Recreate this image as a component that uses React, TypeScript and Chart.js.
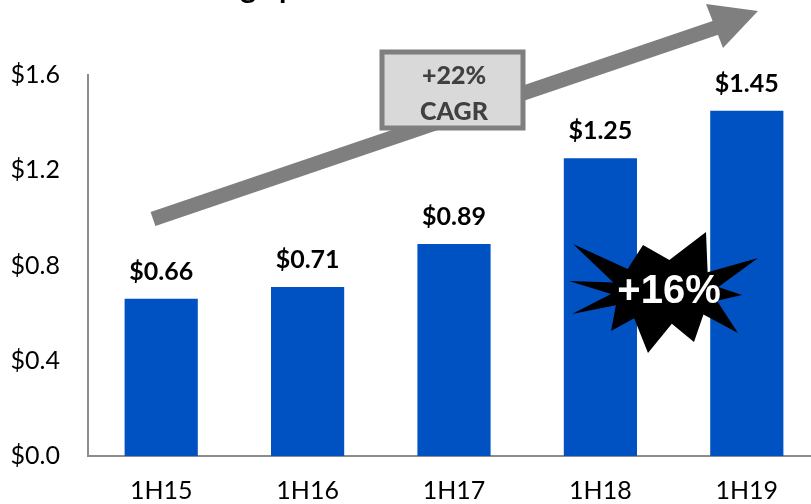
import React, { useEffect, useRef } from "react";
import { Chart, registerables } from "chart.js";

Chart.register(...registerables);

const categories = ["1H15", "1H16", "1H17", "1H18", "1H19"];
const values = [0.66, 0.71, 0.89, 1.25, 1.45];
const valueLabels = ["$0.66", "$0.71", "$0.89", "$1.25", "$1.45"];
const yTicks = [0, 0.4, 0.8, 1.2, 1.6];
const cagrLines = ["+22%", "CAGR"];
const growthLabel = "+16%";
const titleLeft = "Strong";
const titleRight = "performance";

const FONT = "Lato, 'Open Sans', sans-serif";

const decorPlugin = {
  id: "decor",
  afterDatasetsDraw(chart: any) {
    const ctx = chart.ctx as CanvasRenderingContext2D;
    const meta = chart.getDatasetMeta(0);
    ctx.save();
    // data labels
    ctx.fillStyle = "#000";
    ctx.font = `bold 25px ${FONT}`;
    ctx.textAlign = "center";
    ctx.textBaseline = "alphabetic";
    meta.data.forEach((bar: any, i: number) => {
      ctx.fillText(valueLabels[i], bar.x, bar.y - 19);
    });

    // title (cut off at top)
    ctx.font = `bold 30px ${FONT}`;
    ctx.textAlign = "right";
    ctx.fillText(titleLeft, 256, -2);
    ctx.textAlign = "left";
    ctx.fillText(titleRight, 279, -2);

    // arrow
    ctx.strokeStyle = "#7f7f7f";
    ctx.fillStyle = "#7f7f7f";
    ctx.lineWidth = 15;
    ctx.lineCap = "butt";
    ctx.beginPath();
    ctx.moveTo(153, 219);
    ctx.lineTo(718, 27);
    ctx.stroke();
    ctx.beginPath();
    ctx.moveTo(706, 4);
    ctx.lineTo(758, 11);
    ctx.lineTo(723, 48);
    ctx.closePath();
    ctx.fill();

    // CAGR box
    ctx.fillStyle = "#d9d9d9";
    ctx.fillRect(382, 52, 141, 76);
    ctx.strokeStyle = "#7f7f7f";
    ctx.lineWidth = 5;
    ctx.strokeRect(382, 52, 141, 76);
    ctx.fillStyle = "#404040";
    ctx.font = `900 25px ${FONT}`;
    ctx.textAlign = "center";
    ctx.fillText(cagrLines[0], 454, 84);
    ctx.fillText(cagrLines[1], 454, 120);

    // starburst
    const tips: [number, number][] = [
      [569, 281], [573, 244], [643, 245], [706, 232], [758, 258],
      [742, 295], [738, 333], [694, 342], [648, 353], [611, 331], [572, 314],
    ];
    const cx = 665, cy = 292;
    ctx.fillStyle = "#000";
    ctx.beginPath();
    tips.forEach((t, i) => {
      const n = tips[(i + 1) % tips.length];
      const a1 = Math.atan2(t[1] - cy, t[0] - cx);
      let a2 = Math.atan2(n[1] - cy, n[0] - cx);
      if (a2 < a1) a2 += Math.PI * 2;
      const am = (a1 + a2) / 2;
      if (i === 0) ctx.moveTo(t[0], t[1]);
      else ctx.lineTo(t[0], t[1]);
      ctx.lineTo(cx + Math.cos(am) * 54, cy + Math.sin(am) * 32);
    });
    ctx.closePath();
    ctx.fill();
    ctx.fillStyle = "#fff";
    ctx.font = `bold 40px 'Liberation Sans', Arial, sans-serif`;
    ctx.textAlign = "center";
    ctx.textBaseline = "middle";
    ctx.fillText(growthLabel, 669, 292);
    ctx.restore();
  },
};

export default function App() {
  const ref = useRef<HTMLCanvasElement>(null);
  useEffect(() => {
    document.body.style.margin = "0";
    document.body.style.overflow = "hidden";
    const chart = new Chart(ref.current!, {
      type: "bar",
      data: {
        labels: categories,
        datasets: [
          {
            data: values,
            backgroundColor: "#0052c2",
            categoryPercentage: 1,
            barPercentage: 0.5,
          },
        ],
      },
      options: {
        animation: false,
        responsive: false,
        layout: { padding: { top: 75, right: 10, left: 0, bottom: 0 } },
        plugins: { legend: { display: false }, tooltip: { enabled: false } },
        scales: {
          x: {
            grid: { display: false },
            border: { display: true, color: "#8c8c8c", width: 2 },
            ticks: { color: "#000", font: { family: FONT, size: 25 }, padding: 12 },
            afterFit: (s: any) => { s.height = 48; },
          },
          y: {
            min: 0,
            max: 1.6,
            afterBuildTicks: (s: any) => { s.ticks = yTicks.map((v) => ({ value: v })); },
            grid: { display: false },
            border: { display: true, color: "#8c8c8c", width: 2 },
            ticks: {
              color: "#000",
              font: { family: FONT, size: 25 },
              padding: 20,
              callback: (v: any) => "$" + Number(v).toFixed(1),
            },
            afterFit: (s: any) => { s.width = 88; },
          },
        },
      },
      plugins: [decorPlugin],
    });
    return () => chart.destroy();
  }, []);
  return <canvas ref={ref} width={830} height={504} style={{ display: "block" }} />;
}
